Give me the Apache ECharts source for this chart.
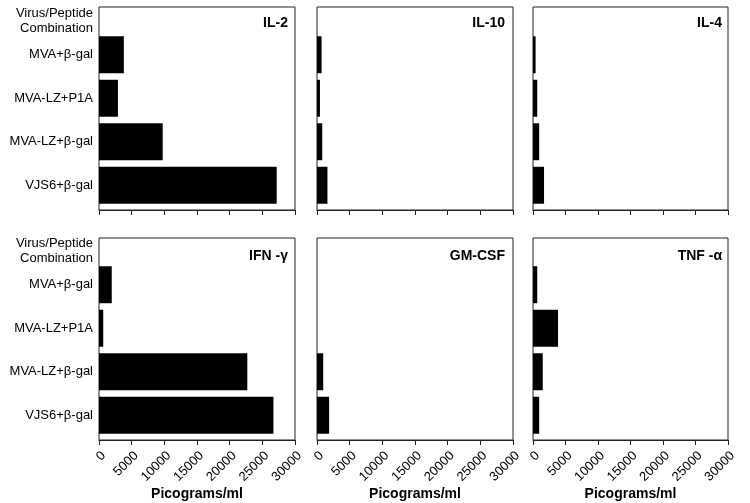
<!DOCTYPE html>
<html>
<head>
<meta charset="utf-8">
<script src="https://cdn.jsdelivr.net/npm/echarts@6/dist/echarts.min.js"></script>
<style>html,body{margin:0;padding:0;background:#fff}#c{width:750px;height:503px}</style>
</head>
<body>
<div id="c"></div>
<script>
// ---- data ----
const categories = ['MVA+β-gal', 'MVA-LZ+P1A', 'MVA-LZ+β-gal', 'VJS6+β-gal'];
const headerLabel = 'Virus/Peptide\nCombination';
const panelTitles = ['IL-2', 'IL-10', 'IL-4', 'IFN -γ', 'GM-CSF', 'TNF -α'];
const il2   = [3800, 2900, 9750, 27200];
const il10  = [700, 450, 800, 1600];
const il4   = [400, 650, 950, 1700];
const ifng  = [1950, 650, 22700, 26700];
const gmcsf = [0, 0, 950, 1850];
const tnfa  = [650, 3850, 1500, 950];
const panelValues = [il2, il10, il4, ifng, gmcsf, tnfa];
const xMin = 0, xMax = 30000, xStep = 5000;
const xAxisName = 'Picograms/ml';

// ---- layout ----
const FONT = '"Liberation Sans", Arial, Helvetica, sans-serif';
const colLeft = [99, 317, 533];
const colWidth = [196, 196, 195];
const rowFrameTop = [7, 238];
const rowFrameH = [203, 202];
const rowDataTop = [33, 263];
const rowDataH = [174, 174];
const titleTop = [16, 249];
const titleRight = [462, 245, 28];

const grid = [], xAxis = [], yAxis = [], series = [], title = [];
for (let p = 0; p < 6; p++) {
  const r = Math.floor(p / 3), c = p % 3;
  const bottomRow = r === 1;
  // frame grid (index 2p)
  grid.push({left: colLeft[c], top: rowFrameTop[r], width: colWidth[c], height: rowFrameH[r],
    show: true, borderColor: '#222', borderWidth: 1, backgroundColor: 'transparent'});
  xAxis.push({gridIndex: 2*p, type: 'value', min: xMin, max: xMax, interval: xStep,
    axisLine: {show: true, lineStyle: {color: '#222', width: 1}},
    axisTick: {show: true, length: 5, lineStyle: {color: '#222'}},
    splitLine: {show: false},
    axisLabel: {show: bottomRow, rotate: 45, margin: 9, verticalAlign: 'top',
      color: '#000', fontSize: 13, fontFamily: FONT, formatter: v => String(v)},
    name: bottomRow ? xAxisName : '', nameLocation: 'middle', nameGap: 45,
    nameTextStyle: {color: '#000', fontSize: 14, fontWeight: 'bold', fontFamily: FONT}});
  yAxis.push({gridIndex: 2*p, type: 'value', show: false});
  // data grid (index 2p+1)
  grid.push({left: colLeft[c], top: rowDataTop[r], width: colWidth[c], height: rowDataH[r]});
  xAxis.push({gridIndex: 2*p+1, type: 'value', min: xMin, max: xMax, show: false});
  yAxis.push({gridIndex: 2*p+1, type: 'category', inverse: true, data: categories,
    axisLine: {show: false}, axisTick: {show: false}, splitLine: {show: false},
    axisLabel: {show: c === 0, margin: 6, color: '#000', fontSize: 13, fontFamily: FONT},
    name: c === 0 ? headerLabel : '', nameLocation: 'start', nameGap: 12,
    nameTextStyle: {color: '#000', fontSize: 13, fontFamily: FONT, lineHeight: 15,
      align: 'right', verticalAlign: 'middle', padding: [0, 6, 0, 0]}});
  series.push({type: 'bar', xAxisIndex: 2*p+1, yAxisIndex: 2*p+1, data: panelValues[p],
    barCategoryGap: '15%', itemStyle: {color: '#000'}, silent: true, animation: false});
  title.push({text: panelTitles[p], right: titleRight[c], top: titleTop[r], padding: 0,
    textStyle: {color: '#000', fontSize: 14, fontWeight: 'bold', fontFamily: FONT}});
}

const chart = echarts.init(document.getElementById('c'), null, {renderer: 'canvas'});
chart.setOption({backgroundColor: '#fff', animation: false, title, grid, xAxis, yAxis, series});
</script>
</body>
</html>
